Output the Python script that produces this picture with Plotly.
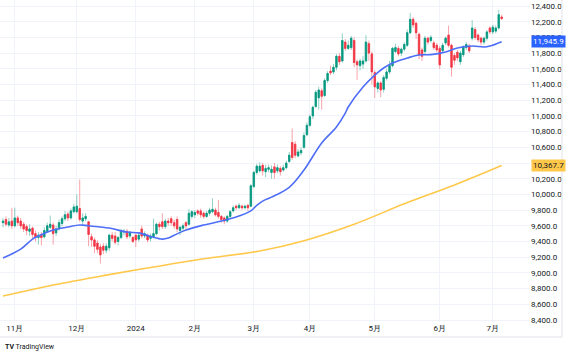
import plotly.graph_objects as go

# ---- data ----
opens = [9640,9680,9610,9660,9600,9700,9660,9620,9590,9530,9570,9500,9450,9490,9460,9530,9580,9610,9510,9560,
         9630,9690,9750,9700,9780,9780,9820,9660,9690,9650,9460,9420,9380,9330,9340,9290,9320,9480,9470,9400,
         9450,9520,9530,9470,9450,9480,9430,9560,9470,9480,9440,9460,9500,9620,9650,9590,9660,9690,9640,9680,
         9540,9570,9640,9620,9720,9740,9790,9790,9760,9720,9760,9780,9800,9770,9720,9700,9660,9720,9790,9850,
         9830,9850,9830,9860,9850,10100,10280,10300,10370,10290,10320,10280,10350,10300,10330,10310,10340,10420,10660,10640,
         10490,10530,10600,10760,10880,11000,11120,11230,11320,11260,11450,11570,11560,11620,11760,11700,11940,11860,11870,11960,
         11690,11640,11660,11700,11920,11790,11550,11350,11420,11340,11480,11560,11640,11820,11860,11800,11850,11900,12060,12230,
         12180,12040,11840,11820,11990,11960,11930,11900,11860,11830,11930,12030,11900,11770,11810,11690,11780,11870,11890,11990,
         12100,12030,11990,11940,11990,12120,12070,12080,12120,12260]
highs = [9700,9720,9700,9830,9830,9730,9700,9650,9620,9620,9590,9540,9520,9520,9580,9640,9730,9640,9600,9680,
         9720,9790,9780,9820,9880,10000,10190,9760,9760,9660,9500,9450,9420,9370,9380,9380,9500,9520,9520,9470,
         9560,9560,9560,9530,9470,9500,9520,9600,9530,9500,9500,9690,9640,9650,9760,9690,9700,9720,9680,9720,
         9600,9630,9660,9810,9800,9800,9810,9820,9780,9790,9830,9950,9830,9930,9740,9720,9740,9800,9860,9870,
         9890,9870,9870,9880,10130,10300,10390,10410,10400,10380,10380,10370,10400,10380,10360,10380,10430,10540,10840,10680,
         10580,10600,10790,10920,11020,11130,11330,11370,11350,11480,11570,11640,11660,11790,11800,12050,11980,11960,12020,12000,
         11720,11730,11760,12030,11960,11820,11580,11440,11440,11520,11600,11700,11880,11920,11890,11870,11940,12100,12310,12260,
         12200,12060,11870,12020,12010,12030,11960,11930,11890,11930,12010,12150,11920,11800,11840,11830,11900,11940,11920,12220,
         12130,12050,12010,12010,12090,12140,12160,12150,12350,12290]
lows = [9580,9590,9580,9560,9580,9600,9560,9520,9480,9470,9440,9400,9360,9350,9440,9510,9560,9360,9470,9540,
        9600,9660,9660,9680,9760,9760,9650,9600,9660,9340,9330,9250,9250,9120,9240,9250,9280,9400,9360,9350,
        9430,9480,9430,9440,9380,9330,9400,9440,9440,9390,9400,9440,9480,9540,9560,9560,9600,9600,9560,9520,
        9480,9540,9560,9600,9690,9700,9730,9700,9690,9700,9730,9760,9720,9690,9640,9620,9640,9700,9770,9800,
        9810,9800,9810,9790,9840,10080,10250,10280,10240,10220,10280,10200,10200,10270,10240,10290,10320,10400,10440,10460,
        10470,10500,10580,10740,10860,10960,11100,11080,11080,11240,11420,11520,11530,11580,11650,11680,11830,11840,11840,11620,
        11460,11580,11600,11680,11700,11400,11230,11300,11240,11300,11450,11530,11620,11800,11760,11760,11820,11880,12040,12120,
        11980,11720,11700,11780,11910,11930,11840,11810,11600,11800,11900,11870,11500,11650,11700,11650,11750,11840,11800,11960,
        11970,11940,11900,11910,11960,12040,12040,12050,12100,12220]
closes = [9660,9620,9650,9600,9700,9640,9600,9560,9540,9560,9490,9460,9480,9450,9540,9600,9620,9500,9560,9640,
          9690,9740,9700,9790,9840,9850,9680,9700,9720,9490,9420,9340,9300,9230,9290,9340,9480,9440,9390,9450,
          9540,9530,9460,9520,9400,9420,9480,9470,9500,9420,9470,9500,9620,9590,9590,9660,9640,9640,9600,9560,
          9580,9600,9600,9760,9780,9770,9760,9740,9720,9760,9800,9810,9740,9720,9680,9660,9720,9780,9830,9830,
          9860,9830,9850,9830,10110,10280,10360,10360,10300,10330,10340,10320,10280,10340,10290,10340,10400,10500,10470,10500,
          10540,10560,10750,10880,10990,11110,11300,11330,11250,11450,11540,11550,11620,11760,11690,11960,11860,11900,11990,11680,
          11650,11700,11700,11940,11800,11560,11370,11420,11330,11490,11560,11640,11860,11870,11790,11850,11910,12060,12230,12160,
          12060,11780,11760,11990,11940,12000,11870,11840,11650,11900,11990,11900,11620,11710,11740,11800,11880,11910,11830,12120,
          12000,11970,11940,11990,12070,12070,12130,12120,12290,12240]

# short moving average (blue), sampled points: bar index -> value
ma_short_idx = [0, 6, 10, 12, 17, 22, 26, 29, 36, 42, 46, 50, 54, 56, 58, 62, 68, 74, 79, 84, 86, 88, 91, 97,
                102, 108, 113, 116, 117, 122, 126, 129, 132, 137, 141, 145, 150, 154, 159, 163, 165, 169]
ma_short_val = [9189, 9303, 9431, 9470, 9546, 9584, 9610, 9600, 9571, 9520, 9510, 9465, 9430, 9444, 9480, 9546,
                9610, 9660, 9711, 9790, 9860, 9915, 9965, 10090, 10310, 10655, 10860, 11036, 11113, 11368, 11520,
                11610, 11674, 11737, 11776, 11780, 11814, 11865, 11890, 11878, 11890, 11945.9]
# long moving average (yellow)
ma_long_idx = [0, 17, 34, 51, 68, 87, 102, 119, 136, 153, 169]
ma_long_val = [8705, 8845, 8965, 9075, 9180, 9280, 9410, 9620, 9880, 10120, 10367.7]

month_idx = [4, 25, 45, 65, 85, 104, 126, 148, 166]
month_labels = ["11月", "12月", "2024", "2月", "3月", "4月", "5月", "6月", "7月"]

ytick_vals = list(range(8400, 12401, 200))

GREEN = "#089981"
RED = "#F23645"
FONT = "Roboto"

x = list(range(len(closes)))
body_hi = [max(o, c) for o, c in zip(opens, closes)]
body_lo = [min(o, c) for o, c in zip(opens, closes)]

fig = go.Figure()
# wicks (lighter)
fig.add_trace(go.Candlestick(
    x=x, open=opens, high=highs, low=lows, close=closes,
    increasing=dict(line=dict(color="rgba(8,153,129,0.45)", width=1), fillcolor="rgba(8,153,129,0.45)"),
    decreasing=dict(line=dict(color="rgba(242,54,69,0.45)", width=1), fillcolor="rgba(242,54,69,0.45)"),
    hoverinfo="skip", showlegend=False))
# bodies
fig.add_trace(go.Candlestick(
    x=x, open=opens, high=body_hi, low=body_lo, close=closes,
    increasing=dict(line=dict(color=GREEN, width=0.6), fillcolor=GREEN),
    decreasing=dict(line=dict(color=RED, width=0.6), fillcolor=RED),
    hoverinfo="skip", showlegend=False))
fig.add_trace(go.Scatter(x=ma_long_idx, y=ma_long_val, mode="lines", line_shape="spline",
                         line=dict(color="#FFC84A", width=1.6), showlegend=False, hoverinfo="skip"))
fig.add_trace(go.Scatter(x=ma_short_idx, y=ma_short_val, mode="lines", line_shape="spline",
                         line=dict(color="#4F6EF7", width=1.6), showlegend=False, hoverinfo="skip"))

W, H = 569, 354
ML, MR, MT, MB = 0, 39, 0, 32
pw, ph = W - ML - MR, H - MT - MB

fig.update_layout(
    width=W, height=H,
    margin=dict(l=ML, r=MR, t=MT, b=MB),
    paper_bgcolor="white", plot_bgcolor="white",
    font=dict(family=FONT, size=8, color="#131722"),
    showlegend=False,
    xaxis=dict(range=[-1.02, 178.6], tickmode="array", tickvals=month_idx, ticktext=month_labels,
               showgrid=True, gridcolor="#F0F3FA", gridwidth=1, zeroline=False, showline=False,
               ticks="", rangeslider=dict(visible=False), tickfont=dict(size=8, color="#131722")),
    yaxis=dict(side="right", range=[8374.5, 12476.4], tickmode="array", tickvals=ytick_vals,
               tickformat=",.1f", showgrid=True, gridcolor="#F0F3FA", gridwidth=1, zeroline=False,
               showline=False, ticks="", tickfont=dict(size=8, color="#131722")),
)

# widget border (right and bottom)
xr = 562 / pw
yb = -(337 - ph) / ph
fig.add_shape(type="line", xref="paper", yref="paper", x0=xr, x1=xr, y0=yb, y1=1,
              line=dict(color="#E0E3EB", width=1))
fig.add_shape(type="line", xref="paper", yref="paper", x0=0, x1=xr, y0=yb, y1=yb,
              line=dict(color="#E0E3EB", width=1))

# last value labels (cover the axis labels behind them, as in the reference)
fig.add_annotation(xref="paper", yref="y", x=1, y=ma_short_val[-1], xanchor="left", xshift=1,
                   text=f"{ma_short_val[-1]:,.1f}", showarrow=False, bgcolor="#2962FF",
                   font=dict(color="white", size=8, family=FONT), borderpad=1)
fig.add_annotation(xref="paper", yref="y", x=1, y=ma_long_val[-1], xanchor="left", xshift=1,
                   text=f"{ma_long_val[-1]:,.1f}", showarrow=False, bgcolor="#FFC84A",
                   font=dict(color="#131722", size=8, family=FONT), borderpad=1)

# logo text
fig.add_annotation(xref="paper", yref="paper", x=0, xshift=3, y=-(347 - ph) / ph, xanchor="left",
                   yanchor="middle", text="<b>TV</b> TradingView", showarrow=False,
                   font=dict(size=7, color="#131722", family=FONT))

fig.write_html("out.html")
